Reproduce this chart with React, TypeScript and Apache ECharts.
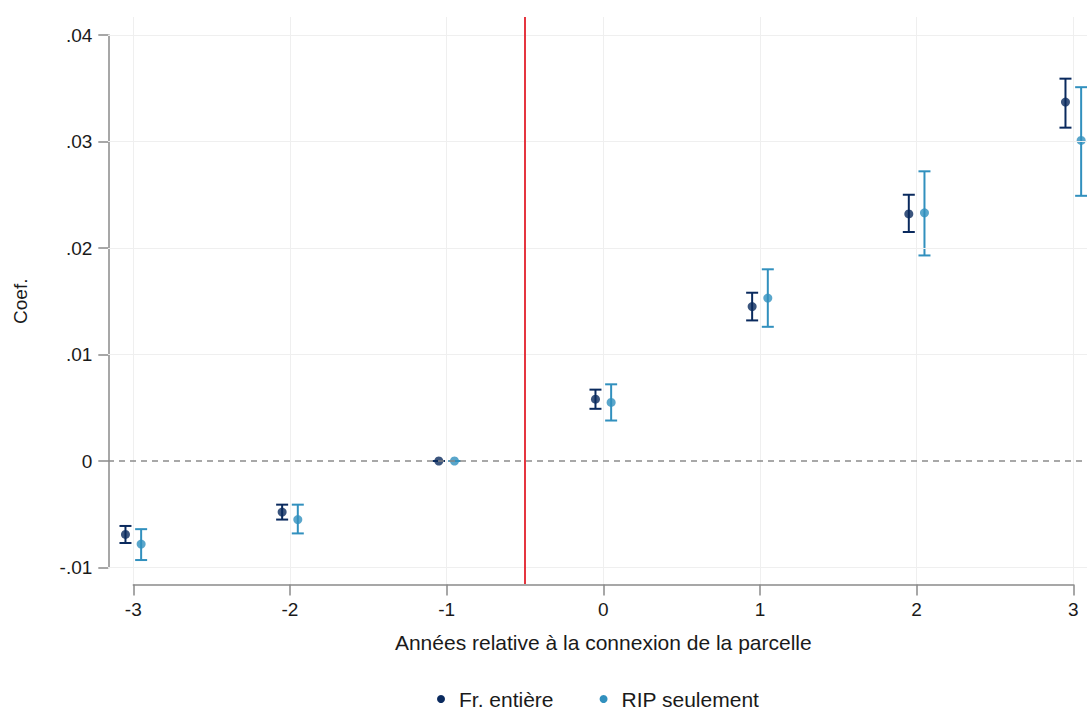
import React, { useEffect, useRef } from "react";
import * as echarts from "echarts";

// Event-time coefficients with 95% confidence intervals
const YEARS = [-3, -2, -1, 0, 1, 2, 3];

const FR_COEF = [-0.0069, -0.0048, 0, 0.0058, 0.0145, 0.0232, 0.0337];
const FR_LO = [-0.0077, -0.0055, 0, 0.0049, 0.0132, 0.0215, 0.0313];
const FR_HI = [-0.0061, -0.0041, 0, 0.0067, 0.0158, 0.025, 0.0359];

const RIP_COEF = [-0.0078, -0.0055, 0, 0.0055, 0.0153, 0.0233, 0.0301];
const RIP_LO = [-0.0093, -0.0068, 0, 0.0038, 0.0126, 0.0193, 0.0249];
const RIP_HI = [-0.0064, -0.0041, 0, 0.0072, 0.018, 0.0272, 0.0351];

const X_TICKS = [-3, -2, -1, 0, 1, 2, 3];
const Y_TICKS = [-0.01, 0, 0.01, 0.02, 0.03, 0.04];

const SERIES_NAMES = ["Fr. entière", "RIP seulement"];
const EVENT_LINE = -0.5;

const NAVY = "#0a2a5e";
const TEAL = "#3190be";
const AXIS_GRAY = "#8a8a8a";
const GRID_GRAY = "#efefef";
const TEXT = "#1a1a1a";
const FONT = "'Liberation Sans', Arial, sans-serif";

// plotting region extends a little past the labelled tick range
const X_MIN = -3.1615;
const X_MAX = 3.0874;
const Y_MIN = -0.01155;
const Y_MAX = 0.04169;
const DODGE = 0.05;

const fmtY = (v: number) => {
  if (Math.abs(v) < 1e-9) return "0";
  const s = Math.abs(v).toFixed(2).replace(/^0/, "");
  return (v < 0 ? "-" : "") + s;
};

function errorBars(name: string, color: string, shift: number, lo: number[], hi: number[]) {
  return {
    name,
    type: "custom",
    xAxisIndex: 0,
    yAxisIndex: 0,
    z: 3,
    silent: true,
    itemStyle: { color },
    data: YEARS.map((x, i) => [x + shift, lo[i], hi[i]]),
    encode: { x: 0, y: [1, 2] },
    renderItem: (_params: any, api: any) => {
      const x = api.value(0);
      const a = api.coord([x, api.value(1)]);
      const b = api.coord([x, api.value(2)]);
      const w = 6;
      const st = { stroke: color, lineWidth: 2 };
      return {
        type: "group",
        children: [
          { type: "line", shape: { x1: a[0], y1: a[1], x2: b[0], y2: b[1] }, style: st },
          { type: "line", shape: { x1: a[0] - w, y1: a[1], x2: a[0] + w, y2: a[1] }, style: st },
          { type: "line", shape: { x1: b[0] - w, y1: b[1], x2: b[0] + w, y2: b[1] }, style: st },
        ],
      };
    },
  };
}

function points(name: string, color: string, shift: number, coef: number[]) {
  return {
    name,
    type: "scatter",
    xAxisIndex: 0,
    yAxisIndex: 0,
    z: 4,
    symbol: "circle",
    symbolSize: 9,
    itemStyle: { color },
    data: YEARS.map((x, i) => [x + shift, coef[i]]),
  };
}

const plainLine = (color: string, width: number, type: any = "solid") => ({
  color,
  width,
  type,
});

export default function App() {
  const ref = useRef<HTMLDivElement>(null);

  useEffect(() => {
    if (!ref.current) return;
    const chart = echarts.init(ref.current, undefined, { renderer: "svg" });

    const option: any = {
      animation: false,
      backgroundColor: "#ffffff",
      textStyle: { fontFamily: FONT },
      grid: [
        // data region
        { left: 108, right: 0, top: 17, bottom: 125, containLabel: false },
        // labelled tick range, whose axes are pushed outward
        { left: 133.3, right: 13.7, top: 35, bottom: 141.5, containLabel: false },
      ],
      legend: {
        data: SERIES_NAMES.map((n) => ({ name: n, icon: "circle" })),
        left: 432,
        top: 683,
        itemWidth: 26,
        itemHeight: 8,
        itemGap: 46,
        textStyle: { fontSize: 21, lineHeight: 22, color: TEXT, fontFamily: FONT },
      },
      xAxis: [
        { type: "value", gridIndex: 0, min: X_MIN, max: X_MAX, show: false },
        {
          type: "value",
          gridIndex: 1,
          min: X_TICKS[0],
          max: X_TICKS[X_TICKS.length - 1],
          interval: 1,
          offset: 17,
          name: "Années relative à la connexion de la parcelle",
          nameLocation: "middle",
          nameGap: 47,
          nameTextStyle: { fontSize: 21, color: TEXT, fontFamily: FONT },
          axisLine: { show: true, onZero: false, lineStyle: { color: AXIS_GRAY, width: 1.5 } },
          splitLine: { show: false },
          axisTick: { show: true, length: 11, lineStyle: { color: AXIS_GRAY, width: 1.5 } },
          axisLabel: {
            margin: 15,
            fontSize: 19,
            color: TEXT,
            fontFamily: FONT,
            formatter: (v: number) => String(Math.round(v)),
          },
        },
      ],
      yAxis: [
        { type: "value", gridIndex: 0, min: Y_MIN, max: Y_MAX, show: false },
        {
          type: "value",
          gridIndex: 1,
          min: Y_TICKS[0],
          max: Y_TICKS[Y_TICKS.length - 1],
          interval: 0.01,
          offset: 25,
          name: "Coef.",
          nameLocation: "middle",
          nameGap: 78,
          nameTextStyle: { fontSize: 19, color: TEXT, fontFamily: FONT },
          axisLine: { show: true, onZero: false, lineStyle: { color: AXIS_GRAY, width: 1.5 } },
          splitLine: { show: false },
          axisTick: { show: true, length: 10, lineStyle: { color: AXIS_GRAY, width: 1.5 } },
          axisLabel: {
            margin: 16,
            fontSize: 19,
            color: TEXT,
            fontFamily: FONT,
            formatter: fmtY,
          },
        },
      ],
      series: [
        {
          name: "grid",
          type: "line",
          xAxisIndex: 0,
          yAxisIndex: 0,
          data: [],
          z: 1,
          markLine: {
            silent: true,
            symbol: ["none", "none"],
            label: { show: false },
            animation: false,
            data: [
              ...X_TICKS.map((v) => ({ xAxis: v, lineStyle: plainLine(GRID_GRAY, 1) })),
              ...Y_TICKS.filter((v) => v !== 0).map((v) => ({
                yAxis: v,
                lineStyle: plainLine(GRID_GRAY, 1),
              })),
              { yAxis: 0, lineStyle: plainLine("#8c8c8c", 1.6, [6, 5]) },
              { xAxis: EVENT_LINE, lineStyle: plainLine("#e3202b", 1.8) },
            ],
          },
        },
        errorBars(SERIES_NAMES[0], NAVY, -DODGE, FR_LO, FR_HI),
        errorBars(SERIES_NAMES[1], TEAL, DODGE, RIP_LO, RIP_HI),
        points(SERIES_NAMES[0], NAVY, -DODGE, FR_COEF),
        points(SERIES_NAMES[1], TEAL, DODGE, RIP_COEF),
      ],
    };

    chart.setOption(option);
    return () => chart.dispose();
  }, []);

  return (
    <div
      ref={ref}
      style={{ position: "absolute", left: 0, top: 0, width: 1087, height: 709 }}
    />
  );
}
